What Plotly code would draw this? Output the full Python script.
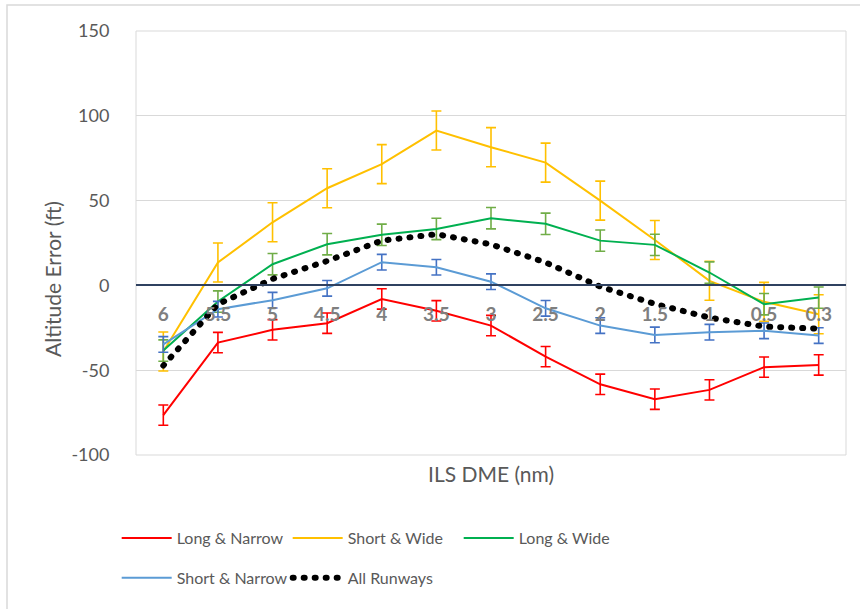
import plotly.graph_objects as go

categories = ["6", "5.5", "5", "4.5", "4", "3.5", "3", "2.5", "2", "1.5", "1", "0.5", "0.3"]

long_narrow = [-76.5, -33.7, -26.2, -22.3, -8.0, -15.0, -23.7, -42.0, -58.3, -67.1, -61.6, -48.2, -46.9]
long_narrow_err = [6, 6, 6, 6, 6, 6, 6, 6, 6, 6, 6, 6, 6]

short_wide = [-39.0, 13.5, 37.2, 57.3, 71.5, 91.3, 81.5, 72.4, 50.0, 26.8, 2.7, -9.7, -17.0]
short_wide_err = [11.5, 11.5, 11.5, 11.5, 11.5, 11.5, 11.5, 11.5, 11.5, 11.5, 11.5, 11.5, 11.5]

long_wide = [-38.4, -9.5, 12.5, 24.3, 29.8, 33.3, 39.6, 36.3, 26.4, 23.9, 7.6, -11.1, -7.2]
long_wide_err = [6.3, 6.3, 6.3, 6.3, 6.3, 6.3, 6.3, 6.3, 6.3, 6.3, 6.3, 6.3, 6.3]

short_narrow = [-34.8, -14.0, -8.7, -1.7, 13.7, 10.7, 2.2, -13.5, -23.7, -29.2, -27.6, -26.8, -29.6]
short_narrow_err = [4.6, 4.6, 4.6, 4.6, 4.6, 4.6, 4.6, 4.6, 4.6, 4.6, 4.6, 4.6, 4.6]

all_runways = [-47.3, -11.1, 3.8, 14.4, 26.4, 30.2, 24.2, 13.5, -0.7, -10.9, -19.0, -24.3, -25.5]

y_ticks = [-100, -50, 0, 50, 100, 150]
y_tick_labels = ["-100", "-50", "0", "50", "100", "150"]

FONT = "Lato"
GREY = "#595959"

fig = go.Figure()

def add_series(name, vals, err, color, ecolor, legend):
    fig.add_trace(go.Scatter(
        x=categories, y=vals, name=name, mode="lines",
        line=dict(color=color, width=2),
        error_y=dict(type="data", array=err, visible=True, color=ecolor, thickness=1.6, width=5),
        legend=legend,
    ))

add_series("Long & Narrow", long_narrow, long_narrow_err, "#FF0000", "#FF0000", "legend")
add_series("Short & Wide", short_wide, short_wide_err, "#FFC000", "#FFC000", "legend")
add_series("Long & Wide", long_wide, long_wide_err, "#00B050", "#70AD47", "legend")
add_series("Short & Narrow", short_narrow, short_narrow_err, "#5B9BD5", "#4472C4", "legend2")

fig.add_trace(go.Scatter(
    x=categories, y=all_runways, name="All Runways", mode="lines",
    line=dict(color="#000000", width=6, dash="1px,10px"),
    legend="legend2",
))

legend_x = -0.0272

fig.update_layout(
    width=860, height=609,
    margin=dict(l=136, r=14, t=31, b=154),
    paper_bgcolor="white", plot_bgcolor="white",
    font=dict(family=FONT, color=GREY, size=17),
    xaxis=dict(
        type="category", anchor="free", position=0.4,
        showline=True, linecolor="#2F4160", linewidth=2,
        showgrid=False, zeroline=False,
        ticks="outside", ticklen=12, tickcolor="rgba(0,0,0,0)",
        tickfont=dict(family=FONT, size=19, color="#7F7F7F", weight="bold"),
        range=[-0.5, 12.5],
    ),
    yaxis=dict(
        range=[-100, 150], tickvals=y_ticks, ticktext=y_tick_labels,
        showgrid=True, gridcolor="#D9D9D9", gridwidth=1,
        zeroline=False, showline=False,
        ticks="outside", ticklen=22, tickcolor="rgba(0,0,0,0)",
        tickfont=dict(family=FONT, size=18, color=GREY),
    ),
    legend=dict(
        orientation="h", x=legend_x, y=-0.196, xanchor="left", yanchor="middle",
        entrywidth=106, entrywidthmode="pixels", itemwidth=50,
        font=dict(family=FONT, size=16, color=GREY), bgcolor="rgba(0,0,0,0)",
    ),
    legend2=dict(
        orientation="h", x=legend_x, y=-0.29, xanchor="left", yanchor="middle",
        entrywidth=106, entrywidthmode="pixels", itemwidth=50,
        font=dict(family=FONT, size=16, color=GREY), bgcolor="rgba(0,0,0,0)",
    ),
    showlegend=True,
)

# plot area border and outer chart border
fig.add_shape(type="rect", xref="paper", yref="paper", x0=0, x1=1, y0=0, y1=1,
              line=dict(color="#D9D9D9", width=1), layer="below")
fig.add_shape(type="rect", xref="paper", yref="paper",
              x0=(7 - 136) / 710, x1=(900 - 136) / 710, y0=-(650 - 455) / 424, y1=1 + (31 - 5) / 424,
              line=dict(color="#D9D9D9", width=1.5), layer="below")

fig.add_annotation(text="ILS DME (nm)", xref="paper", yref="paper", x=0.5, y=-(473 - 455) / 424,
                   showarrow=False, font=dict(family=FONT, size=21, color=GREY), yanchor="middle")
fig.add_annotation(text="Altitude Error (ft)", xref="paper", yref="paper", x=-(136 - 52) / 710,
                   y=(455 - 279) / 424, textangle=-90, showarrow=False,
                   font=dict(family=FONT, size=21, color=GREY), xanchor="center", yanchor="middle")

post = """
document.body.style.margin = '0';
document.body.style.padding = '0';
var gd = document.getElementsByClassName('plotly-graph-div')[0];
function rounds(){
  document.querySelectorAll('path').forEach(function(p){
    var d = p.style.strokeDasharray;
    if (d && d.indexOf('1px') === 0) { p.style.strokeLinecap = 'round'; }
  });
}
rounds();
if (gd && gd.on) { gd.on('plotly_afterplot', rounds); }
"""

fig.write_html("out.html", post_script=post, config={"displayModeBar": False})
